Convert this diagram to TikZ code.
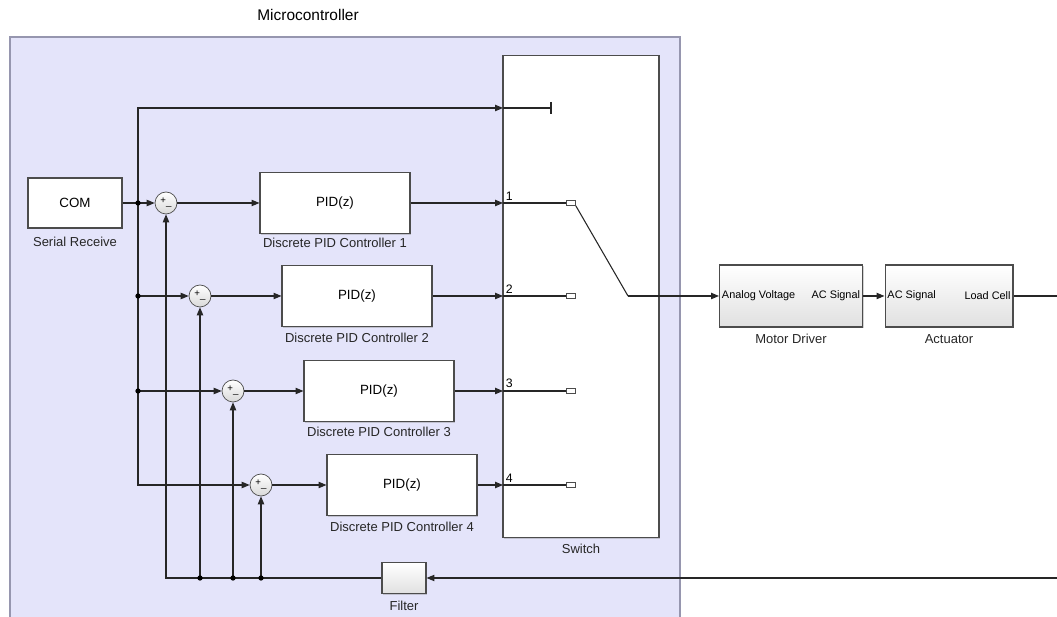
\documentclass[tikz,border=0pt]{standalone}
\usepackage{fontspec}
\setmainfont{Liberation Sans}
\usetikzlibrary{arrows.meta,shadows}

\definecolor{mcfill}{RGB}{228,228,250}
\definecolor{mcedge}{RGB}{150,150,175}

\tikzset{
  sig/.style={draw=black!85, line width=0.6pt, -{Triangle[length=4.5pt,width=3.6pt]}},
  wire/.style={draw=black!85, line width=0.6pt},
  blk/.style={draw=black!70, fill=white, line width=0.6pt, drop shadow={shadow xshift=0.8pt,shadow yshift=-0.8pt,opacity=0.35}, font=\fontsize{7.6}{9}\selectfont},
  gblk/.style={blk, top color=white, bottom color=black!12},
  sumblk/.style={circle, draw=black!70, minimum size=0.44cm, inner sep=0pt, top color=white, bottom color=black!15, font=\fontsize{5.5}{5.5}\selectfont},
  lbl/.style={font=\fontsize{7.4}{9}\selectfont, text=black!85},
  port/.style={font=\fontsize{6.2}{7}\selectfont, inner sep=1.5pt},
  num/.style={font=\fontsize{7}{8}\selectfont, inner sep=1.5pt},
  dot/.style={circle, fill=black, inner sep=0pt, minimum size=3pt},
  contact/.style={draw=black!70, fill=white, minimum width=0.18cm, minimum height=0.1cm, inner sep=0pt},
}

\begin{document}
\begin{tikzpicture}[x=0.02cm,y=-0.02cm]
  \useasboundingbox (0,0) rectangle (1057,617);

  % subsystem
  \fill[mcfill] (10,37) rectangle (680,617);
  \draw[mcedge, line width=0.6pt] (10,617) |- (680,37) -- (680,617);
  \node[font=\fontsize{8.8}{10}\selectfont] (mctitle) at (308,15) {Microcontroller};

  % blocks
  \node[blk, minimum width=1.88cm, minimum height=1cm] (com) at (75,203) {COM};
  \node[lbl] at (75,242) {Serial Receive};

  \node[sumblk] (sum1) at (166,203) {\raisebox{1pt}{+}\_};
  \node[sumblk] (sum2) at (200,296) {\raisebox{1pt}{+}\_};
  \node[sumblk] (sum3) at (233,391) {\raisebox{1pt}{+}\_};
  \node[sumblk] (sum4) at (261,485) {\raisebox{1pt}{+}\_};

  \node[blk, minimum width=3cm, minimum height=1.22cm] (pid1) at (335,203) {PID(z)};
  \node[lbl] at (335,243) {Discrete PID Controller 1};
  \node[blk, minimum width=3cm, minimum height=1.22cm] (pid2) at (357,296) {PID(z)};
  \node[lbl] at (357,338) {Discrete PID Controller 2};
  \node[blk, minimum width=3cm, minimum height=1.22cm] (pid3) at (379,391) {PID(z)};
  \node[lbl] at (379,432) {Discrete PID Controller 3};
  \node[blk, minimum width=3cm, minimum height=1.22cm] (pid4) at (402,485) {PID(z)};
  \node[lbl] at (402,527) {Discrete PID Controller 4};

  \node[gblk, minimum width=0.88cm, minimum height=0.62cm] (filt) at (404,578) {};
  \node[lbl] at (404,606) {Filter};

  % switch
  \node[blk, minimum width=3.12cm, minimum height=9.66cm] (sw) at (581,296.5) {};
  \node[lbl] at (581,549) {Switch};
  \coordinate (in0) at (503,108);
  \coordinate (in1) at (503,203);
  \coordinate (in2) at (503,296);
  \coordinate (in3) at (503,391);
  \coordinate (in4) at (503,485);
  \coordinate (stub) at (551,108);
  \coordinate (pivot) at (628,296);
  \node[contact] (c1) at (571,203) {};
  \node[contact] (c2) at (571,296) {};
  \node[contact] (c3) at (571,391) {};
  \node[contact] (c4) at (571,485) {};
  \node[num, anchor=south west] at (in1) {1};
  \node[num, anchor=south west] at (in2) {2};
  \node[num, anchor=south west] at (in3) {3};
  \node[num, anchor=south west] at (in4) {4};

  % plant
  \node[gblk, minimum width=2.86cm, minimum height=1.24cm] (md) at (791,296) {};
  \node[port, anchor=west] at (md.west) {Analog Voltage};
  \node[port, anchor=east] at (md.east) {AC Signal};
  \node[lbl] at (791,339) {Motor Driver};
  \node[gblk, minimum width=2.56cm, minimum height=1.24cm] (act) at (949,296) {};
  \node[port, anchor=west] at (act.west) {AC Signal};
  \node[port, anchor=east] at (act.east) {Load Cell};
  \node[lbl] at (949,339) {Actuator};

  % reference branches
  \coordinate (b1) at (138,203);
  \coordinate (b2) at (138,296);
  \coordinate (b3) at (138,391);
  \draw[sig] (com.east) -- (sum1.west);
  \draw[sig] (b1) |- (in0);
  \draw[sig] (b1) |- (sum4.west);
  \draw[sig] (b2) -- (sum2.west);
  \draw[sig] (b3) -- (sum3.west);
  \node[dot] at (b1) {};
  \node[dot] at (b2) {};
  \node[dot] at (b3) {};

  % controllers
  \draw[sig] (sum1.east) -- (pid1.west);
  \draw[sig] (sum2.east) -- (pid2.west);
  \draw[sig] (sum3.east) -- (pid3.west);
  \draw[sig] (sum4.east) -- (pid4.west);
  \draw[sig] (pid1.east) -- (in1);
  \draw[sig] (pid2.east) -- (in2);
  \draw[sig] (pid3.east) -- (in3);
  \draw[sig] (pid4.east) -- (in4);

  % inside switch
  \draw[wire] (in0) -- (stub);
  \draw[wire] (stub) ++(0,-6) -- ++(0,12);
  \draw[wire] (in1) -- (c1.west);
  \draw[wire] (in2) -- (c2.west);
  \draw[wire] (in3) -- (c3.west);
  \draw[wire] (in4) -- (c4.west);
  \draw[wire] (c1.south east) -- (pivot);

  % plant path
  \coordinate (outR) at (1057,296);
  \draw[sig] (pivot) -- (md.west);
  \draw[sig] (md.east) -- (act.west);
  \draw[wire] (act.east) -- (outR);

  % feedback
  \coordinate (fbR) at (1057,578);
  \coordinate (fbL) at (166,578);
  \coordinate (f2) at (200,578);
  \coordinate (f3) at (233,578);
  \coordinate (f4) at (261,578);
  \draw[sig] (fbR) -- (filt.east);
  \draw[sig] (filt.west) -- (fbL) -- (sum1.south);
  \draw[sig] (f2) -- (sum2.south);
  \draw[sig] (f3) -- (sum3.south);
  \draw[sig] (f4) -- (sum4.south);
  \node[dot] at (f2) {};
  \node[dot] at (f3) {};
  \node[dot] at (f4) {};
\end{tikzpicture}
\end{document}
